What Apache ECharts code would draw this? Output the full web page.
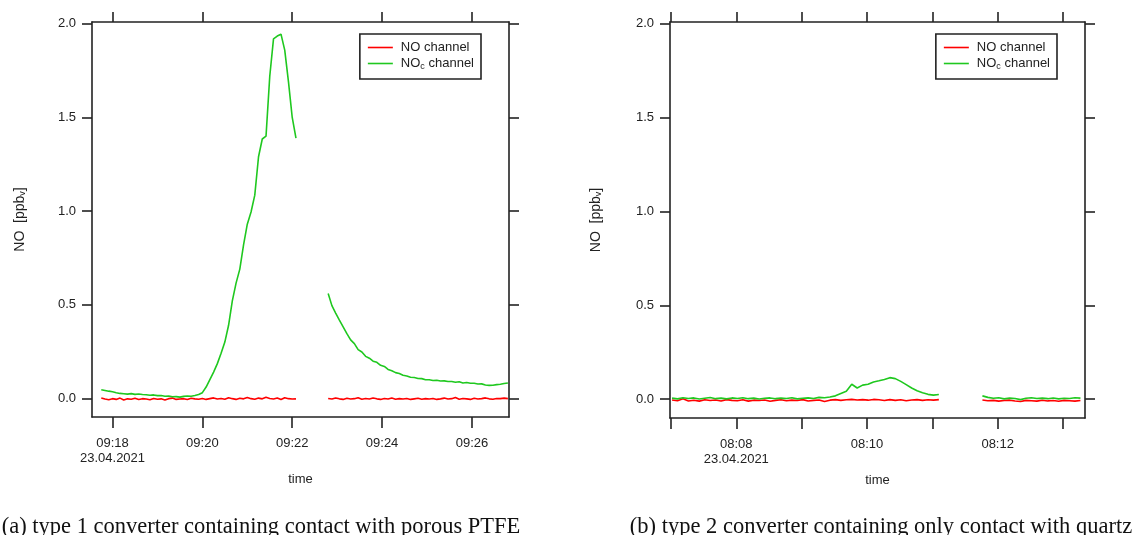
<!DOCTYPE html>
<html><head><meta charset="utf-8">
<script src="https://cdn.jsdelivr.net/npm/echarts@6/dist/echarts.min.js"></script>
<style>html,body{margin:0;padding:0;background:#fff}#c{width:1136px;height:535px}</style>
</head><body><div id="c"></div>
<script>
// ---------- data ----------
const dateLabel = '23.04.2021';
const seriesNames = ['NO channel', 'NOc channel'];
const yTicks = [0, 0.5, 1.0, 1.5, 2.0];
const yRange = [-0.1, 2.01];
const captions = ['(a) type 1 converter containing contact with porous PTFE',
                  '(b) type 2 converter containing only contact with quartz'];
const sampleStepSec = 5;

// panel (a)
const aRange = ['09:17:32.6', '09:26:49.5'];
const aTicks = ['09:18', '09:20', '09:22', '09:24', '09:26'];
const aLabels = ['09:18', '09:20', '09:22', '09:24', '09:26'];
const aSegStart = ['09:17:45', '09:22:48'];
const aNo1 = [0.002,-0.004,-0.008,-0.002,-0.006,0.001,-0.009,-0.003,-0.005,0.000,-0.007,-0.002,-0.004,-0.008,-0.001,-0.005,-0.003,-0.009,-0.002,0.001,-0.006,-0.004,-0.002,-0.007,0.000,-0.003,-0.005,-0.001,-0.006,-0.002,0.002,-0.004,-0.001,-0.005,0.003,-0.002,-0.006,0.000,-0.003,0.004,-0.002,-0.005,0.001,-0.003,0.005,-0.001,-0.004,0.002,-0.007,0.003,-0.002,-0.004,-0.003];
const aNo2 = [-0.001,-0.004,0.002,-0.003,-0.006,0.000,-0.004,-0.002,0.003,-0.005,-0.001,-0.004,0.002,-0.003,-0.006,-0.001,-0.004,0.001,-0.005,-0.002,-0.004,-0.001,-0.006,-0.003,0.000,-0.005,-0.002,-0.004,-0.001,-0.006,-0.003,0.001,-0.004,-0.002,0.004,-0.005,-0.001,-0.003,-0.006,0.000,-0.004,-0.002,0.002,-0.003,-0.005,-0.001,-0.002,0.001,-0.002];
const aNoc1 = [0.046,0.042,0.038,0.035,0.030,0.026,0.024,0.022,0.025,0.021,0.023,0.020,0.019,0.016,0.018,0.014,0.015,0.011,0.012,0.008,0.009,0.006,0.010,0.012,0.011,0.015,0.020,0.030,0.060,0.100,0.140,0.185,0.240,0.300,0.390,0.520,0.615,0.690,0.820,0.930,0.995,1.085,1.290,1.385,1.400,1.720,1.920,1.935,1.945,1.860,1.690,1.500,1.390];
const aNoc2 = [0.560,0.495,0.455,0.418,0.382,0.345,0.312,0.292,0.260,0.247,0.224,0.214,0.198,0.192,0.176,0.170,0.154,0.147,0.137,0.132,0.123,0.119,0.112,0.111,0.106,0.105,0.099,0.099,0.095,0.096,0.092,0.093,0.090,0.090,0.086,0.088,0.082,0.084,0.080,0.080,0.076,0.077,0.071,0.069,0.070,0.073,0.075,0.079,0.082];

// panel (b)
const bRange = ['08:06:59.1', '08:13:20.2'];
const bTicks = ['08:07', '08:08', '08:09', '08:10', '08:11', '08:12', '08:13'];
const bLabels = ['08:08', '08:10', '08:12'];
const bSegStart = ['08:07:01', '08:11:46'];
const bNo1 = [-0.004,-0.008,0.002,-0.009,-0.005,-0.010,-0.003,-0.007,-0.004,-0.009,-0.002,-0.006,-0.008,-0.003,-0.010,-0.005,-0.007,-0.004,-0.011,-0.006,-0.003,-0.008,-0.005,-0.007,-0.002,-0.009,-0.006,-0.004,-0.012,-0.005,-0.002,-0.006,-0.003,-0.001,-0.004,-0.002,-0.005,-0.001,-0.003,-0.007,-0.002,-0.006,-0.003,-0.008,-0.004,-0.002,-0.006,-0.003,-0.005,-0.002];
const bNo2 = [-0.004,-0.008,-0.006,-0.010,-0.007,-0.005,-0.009,-0.012,-0.006,-0.008,-0.010,-0.005,-0.009,-0.007,-0.011,-0.006,-0.008,-0.010,-0.007];
const bNoc1 = [0.006,0.002,0.008,0.004,0.007,0.001,0.005,0.009,0.003,0.006,0.002,0.007,0.004,0.008,0.003,0.006,0.001,0.005,0.007,0.003,0.006,0.004,0.008,0.002,0.005,0.007,0.004,0.010,0.008,0.012,0.018,0.030,0.042,0.080,0.060,0.075,0.080,0.092,0.098,0.105,0.115,0.110,0.095,0.078,0.060,0.045,0.035,0.026,0.022,0.025];
const bNoc2 = [0.018,0.010,0.005,0.008,0.002,0.006,0.004,-0.002,0.005,0.008,0.004,0.006,0.003,0.007,0.002,0.005,0.004,0.008,0.006];

// ---------- helpers ----------
function toSec(s){ const p = s.split(':').map(Number); return p[0]*3600 + p[1]*60 + (p[2]||0); }
function pad(n){ return (n<10?'0':'') + n; }
function seg(start, vals){ const t0 = toSec(start); return vals.map((v,i)=>[t0 + i*sampleStepSec, v]); }

const RED = '#ff0000', GREEN = '#1fc81f', INK = '#222';
const FONT = '"Liberation Sans", Arial, sans-serif';

const panels = [
  {range:aRange, ticks:aTicks, labels:aLabels, start:aSegStart, no:[aNo1,aNo2], noc:[aNoc1,aNoc2],
   grid:{left:92, top:22, width:417, height:395}, legendRight:655, caption:captions[0], capX:261},
  {range:bRange, ticks:bTicks, labels:bLabels, start:bSegStart, no:[bNo1,bNo2], noc:[bNoc1,bNoc2],
   grid:{left:670, top:22, width:415, height:396}, legendRight:79, caption:captions[1], capX:881}
];

const lineStyleAxis = {color: INK, width: 1.6};
const grids = [], xAxes = [], yAxes = [], series = [], legends = [], graphics = [];

panels.forEach((p, i) => {
  grids.push(p.grid);
  const tickVals = p.ticks.map(toSec);
  const labVals = p.labels.map(toSec);
  const first = labVals[0];
  const common = {type:'value', gridIndex:i, min:toSec(p.range[0]), max:toSec(p.range[1]),
    splitLine:{show:false}, axisLine:{show:true, onZero:false, lineStyle:lineStyleAxis}};
  xAxes.push(Object.assign({}, common, {
    position:'bottom',
    axisTick:{show:true, customValues:tickVals, length:11, lineStyle:lineStyleAxis},
    axisLabel:{show:true, customValues:labVals, margin:19, fontSize:13, fontFamily:FONT, color:INK, lineHeight:15,
      formatter: v => { const s = Math.round(v); const t = pad(Math.floor(s/3600)) + ':' + pad(Math.floor(s%3600/60));
        return s === first ? t + '\n' + dateLabel : t; }},
    name:'time', nameLocation:'middle', nameGap:56,
    nameTextStyle:{fontSize:13, fontFamily:FONT, color:INK}
  }));
  xAxes.push(Object.assign({}, common, {
    position:'top',
    axisTick:{show:true, customValues:tickVals, length:10, lineStyle:lineStyleAxis},
    axisLabel:{show:false}
  }));
  const ycommon = {type:'value', gridIndex:i, min:yRange[0], max:yRange[1], splitLine:{show:false},
    axisLine:{show:true, onZero:false, lineStyle:lineStyleAxis}};
  yAxes.push(Object.assign({}, ycommon, {
    position:'left',
    axisTick:{show:true, customValues:yTicks, length:10, lineStyle:lineStyleAxis},
    axisLabel:{show:true, customValues:yTicks, margin:16, fontSize:13, fontFamily:FONT, color:INK,
      formatter: v => v.toFixed(1)},
    name:'NO  [ppb{s|v}]', nameLocation:'middle', nameGap: i===0 ? 65 : 67,
    nameTextStyle:{fontSize:14, fontFamily:FONT, color:INK,
      rich:{s:{fontSize:9, fontFamily:FONT, color:INK, verticalAlign:'bottom', lineHeight:9}}}
  }));
  yAxes.push(Object.assign({}, ycommon, {
    position:'right',
    axisTick:{show:true, customValues:yTicks, length:10, lineStyle:lineStyleAxis},
    axisLabel:{show:false}
  }));
  const xi = i*2, yi = i*2;
  p.no.forEach((vals, k) => series.push({type:'line', name:seriesNames[0], xAxisIndex:xi, yAxisIndex:yi,
    data:seg(p.start[k], vals), symbol:'none', silent:true, animation:false, color:RED,
    lineStyle:{color:RED, width:1.6}}));
  p.noc.forEach((vals, k) => series.push({type:'line', name:seriesNames[1], xAxisIndex:xi, yAxisIndex:yi,
    data:seg(p.start[k], vals), symbol:'none', silent:true, animation:false, color:GREEN,
    lineStyle:{color:GREEN, width:1.6}}));
  legends.push({
    data: seriesNames, orient:'vertical', right:p.legendRight, top:34, selectedMode:false,
    icon:'rect', itemWidth:25, itemHeight:1.6,
    borderColor:INK, borderWidth:1.6, padding:[6,7,8,8], itemGap:1,
    textStyle:{fontSize:13, fontFamily:FONT, color:INK, padding:[0,0,0,3], lineHeight:15,
      rich:{n:{fontSize:13, fontFamily:FONT, color:INK, lineHeight:15},
            c:{fontSize:9, fontFamily:FONT, color:INK, verticalAlign:'bottom', lineHeight:8}}},
    formatter: name => name === 'NOc channel' ? '{n|NO}{c|c}{n| channel}' : name
  });
  graphics.push({type:'text', x:p.capX, y:527, silent:true,
    style:{text:p.caption, font:'22.5px "Liberation Serif", "Times New Roman", serif', fill:'#111',
      textAlign:'center', textVerticalAlign:'middle'}});
});

const chart = echarts.init(document.getElementById('c'), null, {renderer:'canvas'});
chart.setOption({
  animation:false,
  backgroundColor:'#fff',
  grid:grids, xAxis:xAxes, yAxis:yAxes, series:series, legend:legends, graphic:graphics
});
</script></body></html>
